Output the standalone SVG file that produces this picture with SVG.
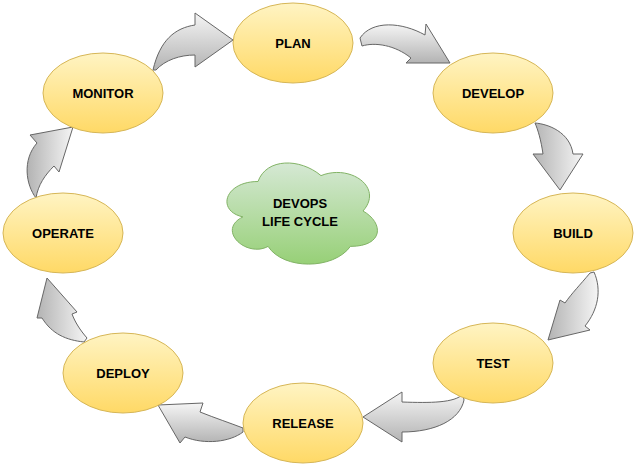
<svg xmlns="http://www.w3.org/2000/svg" width="635" height="470" viewBox="0 0 635 470">
<defs>
<linearGradient id="gY" x1="0" y1="0" x2="0" y2="1"><stop offset="0" stop-color="#fff4c3"/><stop offset="1" stop-color="#ffd966"/></linearGradient>
<linearGradient id="gG" x1="0" y1="0" x2="0" y2="1"><stop offset="0" stop-color="#d5e8d4"/><stop offset="1" stop-color="#97d077"/></linearGradient>
<linearGradient id="gA" x1="0" y1="0" x2="0" y2="1"><stop offset="0" stop-color="#f5f5f5"/><stop offset="1" stop-color="#b3b3b3"/></linearGradient>
<linearGradient id="gAh" x1="0" y1="0" x2="1" y2="0"><stop offset="0" stop-color="#b3b3b3"/><stop offset="1" stop-color="#f5f5f5"/></linearGradient>
</defs>
<style>
.n ellipse{fill:url(#gY);stroke:#d6b656;stroke-width:1}
.t{font-family:"Liberation Sans",Arial,sans-serif;font-weight:bold;font-size:13px;text-anchor:middle;fill:#000}
.a{fill:url(#gA);stroke:#666666;stroke-width:1;stroke-linejoin:miter}
.ah{fill:url(#gAh);stroke:#666666;stroke-width:1}
</style>
<rect width="635" height="470" fill="#ffffff"/>
<g id="connectors">
<path class="a" d="M153,70 C160,40 175,28 195,25 L195,13 L233,40 L195,67 L195,55 C180,55 165,60 156,70 Z"/>
<path class="a" d="M360,38 C372,20 402,22 425,35 L426,24 L450,63 L406,63 L411,58 C395,45 375,42 362,46 Z"/>
<path class="ah" d="M535,123 C548,124 570,132 573,154 L583,154 L560,190 L533,154 L543,154 C541,140 538,130 535,123 Z"/>
<path class="ah" d="M590,273 C580,285 572,293 565,303 L560,300 L548,340 L590,330 L585,326 C598,310 602,290 594,272 Z"/>
<path class="a" d="M463,394 C455,403 430,403 402,402 L402,392 L363,417 L402,442 L402,432 C435,432 460,420 464,400 Z"/>
<path class="a" d="M243,428 C230,423 215,418 200,412 L203,403 L158,405 L180,443 L185,437 C205,445 230,442 243,432 Z"/>
<path class="ah" d="M47,278 L77,312 L72,314 C75,322 80,330 87,338 L84,342 C66,340 52,334 42,318 L37,318 Z"/>
<path class="ah" d="M73,127 L59,172 L54,166 C45,175 38,185 36,198 C26,185 22,160 37,143 L30,135 Z"/>
</g>
<g id="plan" class="n"><ellipse cx="293" cy="43" rx="60" ry="40"/><text class="t" x="293" y="48">PLAN</text></g>
<g id="develop" class="n"><ellipse cx="493" cy="93" rx="60" ry="40"/><text class="t" x="493" y="98">DEVELOP</text></g>
<g id="build" class="n"><ellipse cx="573" cy="233" rx="60" ry="40"/><text class="t" x="573" y="238">BUILD</text></g>
<g id="test" class="n"><ellipse cx="493" cy="363" rx="60" ry="40"/><text class="t" x="493" y="368">TEST</text></g>
<g id="release" class="n"><ellipse cx="303" cy="423" rx="60" ry="40"/><text class="t" x="303" y="428">RELEASE</text></g>
<g id="deploy" class="n"><ellipse cx="123" cy="373" rx="60" ry="40"/><text class="t" x="123" y="378">DEPLOY</text></g>
<g id="operate" class="n"><ellipse cx="63" cy="233" rx="60" ry="40"/><text class="t" x="63" y="238">OPERATE</text></g>
<g id="monitor" class="n"><ellipse cx="103" cy="93" rx="60" ry="40"/><text class="t" x="103" y="98">MONITOR</text></g>
<g id="cloud">
<path fill="url(#gG)" stroke="#82b366" stroke-width="1" d="M258,181.5 C224.4,181.5 216,211 242.9,216.9 C216,229.9 246.2,258.2 268.1,246.4 C283.2,270 333.6,270 350.4,246.4 C384,246.4 384,222.8 363,211 C384,187.4 350.4,163.8 321,175.6 C300,157.9 266.4,157.9 258,181.5 Z"/>
<text class="t" x="300" y="208">DEVOPS</text>
<text class="t" x="300" y="226">LIFE CYCLE</text>
</g>
</svg>
